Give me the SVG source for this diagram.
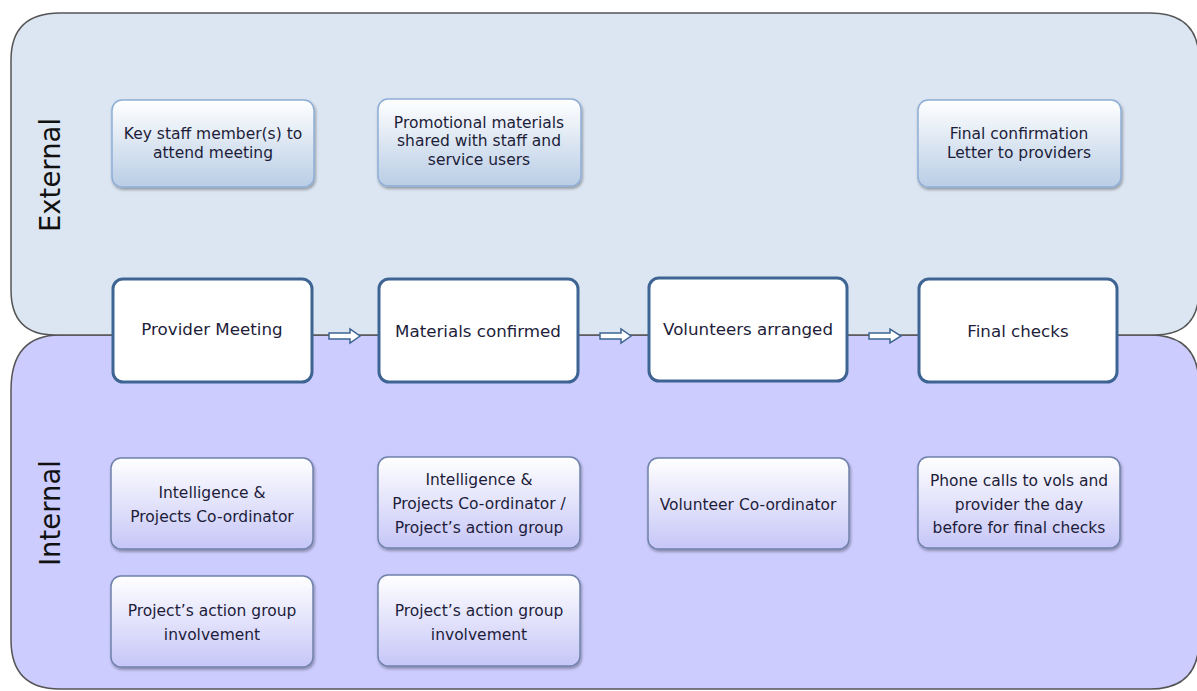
<svg xmlns="http://www.w3.org/2000/svg" width="1197" height="691" viewBox="0 0 1197 691">
<defs>
<linearGradient id="gExt" x1="0" y1="0" x2="0" y2="1">
<stop offset="0" stop-color="#ffffff"/>
<stop offset="1" stop-color="#b9cde5"/>
</linearGradient>
<linearGradient id="gInt" x1="0" y1="0" x2="0" y2="1">
<stop offset="0" stop-color="#ffffff"/>
<stop offset="1" stop-color="#c6c6f8"/>
</linearGradient>
<filter id="sh" x="-10%" y="-10%" width="125%" height="130%">
<feDropShadow dx="1" dy="2" stdDeviation="1.5" flood-color="#000" flood-opacity="0.35"/>
</filter>
<style>
.lane{stroke:#555;stroke-width:1.5}
.ext{fill:url(#gExt);stroke:#8eaed6;stroke-width:1.5;filter:url(#sh)}
.int{fill:url(#gInt);stroke:#6f82ab;stroke-width:1.5;filter:url(#sh)}
.main{fill:#fff;stroke:#3d6492;stroke-width:3}
.t{font-family:"DejaVu Sans","Liberation Sans",sans-serif;font-size:15.5px;fill:#1d1d3a;text-anchor:middle}
.tm{font-family:"DejaVu Sans","Liberation Sans",sans-serif;font-size:16.7px;fill:#1d1d3a;text-anchor:middle}
.lbl{font-family:"DejaVu Sans","Liberation Sans",sans-serif;font-size:27.5px;fill:#111;text-anchor:middle}
.arr{fill:#fff;stroke:#3d6492;stroke-width:1.5}
</style>
</defs>
<g id="lane-internal">
<path class="lane" fill="#ccccff" d="M11,390 Q11,335 60,335 L1150,335 Q1199,335 1199,385 L1199,640 Q1199,689 1150,689 L60,689 Q11,689 11,640 Z"/>
<text class="lbl" transform="translate(60,513) rotate(-90)">Internal</text>
</g>
<g id="lane-external">
<path class="lane" fill="#dce6f2" d="M11,60 Q11,13 60,13 L1150,13 Q1199,13 1199,60 L1199,290 Q1199,335 1155,335 L55,335 Q11,335 11,290 Z"/>
<text class="lbl" transform="translate(60,175) rotate(-90)">External</text>
</g>
<g id="connectors">
<path class="arr" d="M329,333 L350,333 L350,329 L360,336 L350,343 L350,339 L329,339 Z"/>
<path class="arr" d="M600,333 L621,333 L621,329 L631,336 L621,343 L621,339 L600,339 Z"/>
<path class="arr" d="M869,333 L890,333 L890,329 L901,336 L890,343 L890,339 L869,339 Z"/>
</g>
<g id="n-key-staff">
<rect class="ext" x="112" y="100" width="202" height="87" rx="10"/>
<text class="t" x="213" y="139">Key staff member(s) to</text>
<text class="t" x="213" y="158">attend meeting</text>
</g>
<g id="n-promo">
<rect class="ext" x="378" y="99" width="203" height="87" rx="10"/>
<text class="t" x="479" y="128">Promotional materials</text>
<text class="t" x="479" y="146">shared with staff and</text>
<text class="t" x="479" y="165">service users</text>
</g>
<g id="n-final-confirm">
<rect class="ext" x="918" y="100" width="203" height="87" rx="10"/>
<text class="t" x="1019" y="139">Final confirmation</text>
<text class="t" x="1019" y="158">Letter to providers</text>
</g>
<g id="n-provider-meeting">
<rect class="main" x="113" y="279" width="199" height="103" rx="10"/>
<text class="tm" x="212" y="335">Provider Meeting</text>
</g>
<g id="n-materials">
<rect class="main" x="379" y="279" width="199" height="103" rx="10"/>
<text class="tm" x="478" y="337">Materials confirmed</text>
</g>
<g id="n-volunteers">
<rect class="main" x="649" y="278" width="198" height="103" rx="10"/>
<text class="tm" x="748" y="335">Volunteers arranged</text>
</g>
<g id="n-final-checks">
<rect class="main" x="919" y="279" width="198" height="103" rx="10"/>
<text class="tm" x="1018" y="337">Final checks</text>
</g>
<g id="n-intel">
<rect class="int" x="111" y="458" width="202" height="91" rx="10"/>
<text class="t" x="212" y="498">Intelligence &amp;</text>
<text class="t" x="212" y="522">Projects Co-ordinator</text>
</g>
<g id="n-intel-group">
<rect class="int" x="378" y="457" width="202" height="91" rx="10"/>
<text class="t" x="479" y="485">Intelligence &amp;</text>
<text class="t" x="479" y="509">Projects Co-ordinator /</text>
<text class="t" x="479" y="533">Project’s action group</text>
</g>
<g id="n-vol-coord">
<rect class="int" x="648" y="458" width="201" height="91" rx="10"/>
<text class="t" x="748" y="510">Volunteer Co-ordinator</text>
</g>
<g id="n-phone">
<rect class="int" x="918" y="457" width="202" height="91" rx="10"/>
<text class="t" x="1019" y="486">Phone calls to vols and</text>
<text class="t" x="1019" y="510">provider the day</text>
<text class="t" x="1019" y="533">before for final checks</text>
</g>
<g id="n-action-1">
<rect class="int" x="111" y="576" width="202" height="91" rx="10"/>
<text class="t" x="212" y="616">Project’s action group</text>
<text class="t" x="212" y="640">involvement</text>
</g>
<g id="n-action-2">
<rect class="int" x="378" y="575" width="202" height="91" rx="10"/>
<text class="t" x="479" y="616">Project’s action group</text>
<text class="t" x="479" y="640">involvement</text>
</g>
</svg>
